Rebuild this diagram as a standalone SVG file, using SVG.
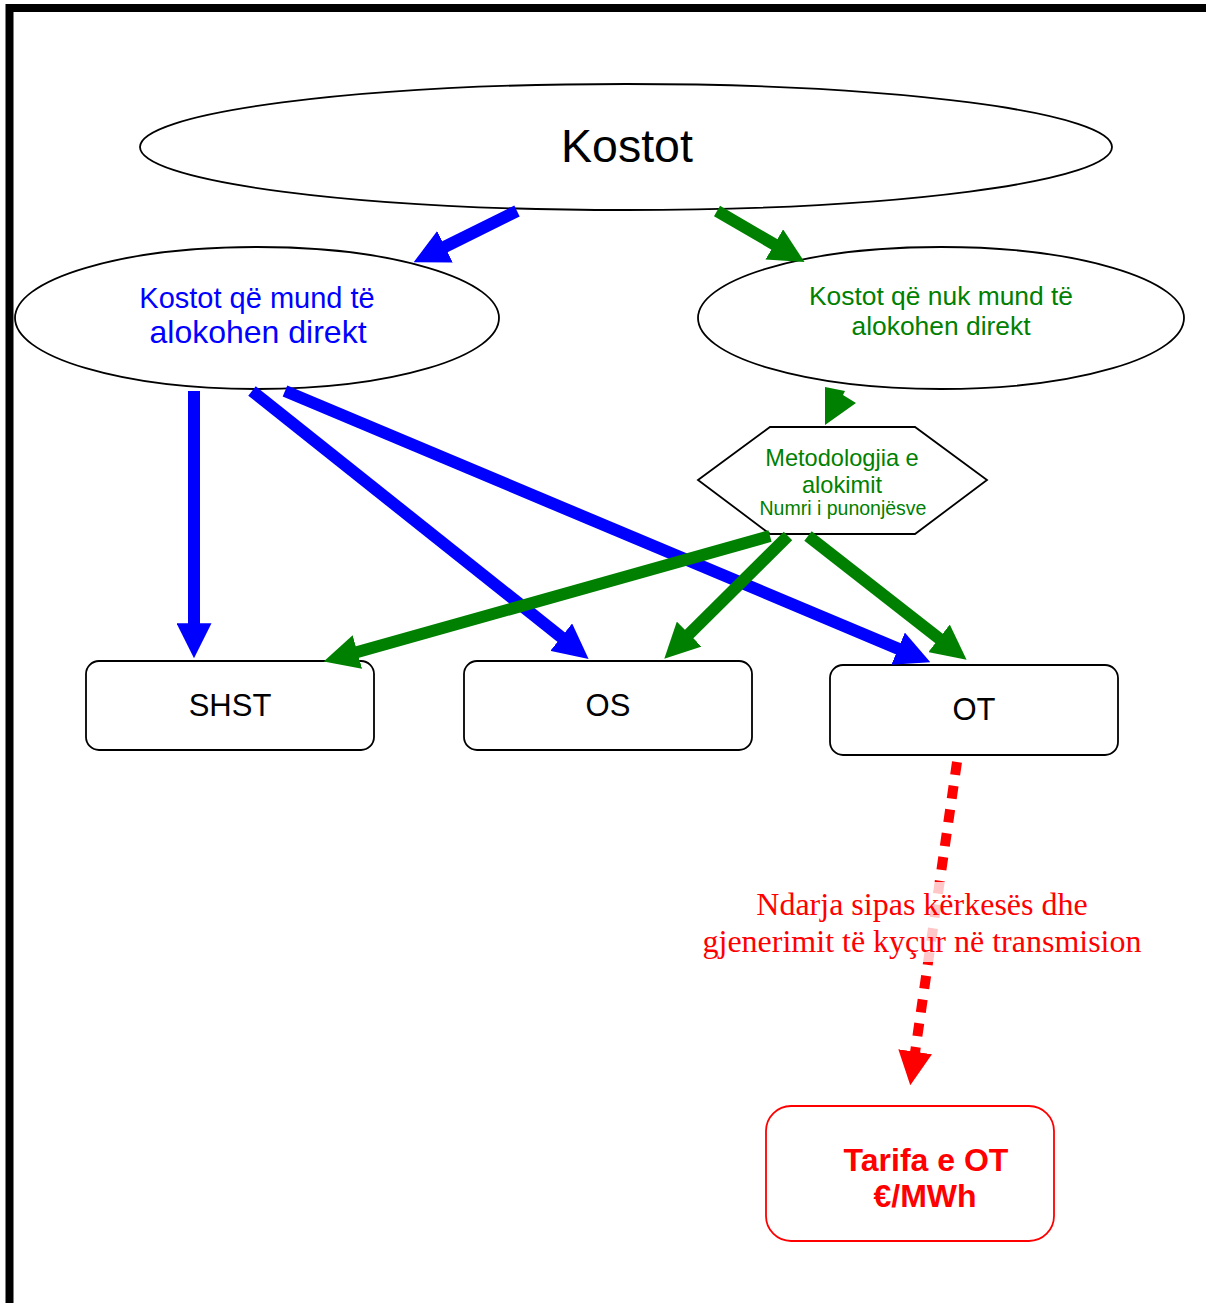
<svg xmlns="http://www.w3.org/2000/svg" width="1206" height="1303" viewBox="0 0 1206 1303">
<style>
.sans{font-family:"Liberation Sans",Arial,sans-serif;}
.serif{font-family:"Liberation Serif","Times New Roman",serif;}
.shape{fill:#fff;stroke:#000;stroke-width:1.8;}
.blue{stroke:#0000ff;stroke-width:12;fill:none;}
.green{stroke:#008000;stroke-width:12;fill:none;}
.red{stroke:#ff0000;stroke-width:10;fill:none;stroke-dasharray:13 11;}
</style>
<defs>
<marker id="hb" viewBox="0 0 10 10" refX="0.5" refY="5" markerWidth="35" markerHeight="35" markerUnits="userSpaceOnUse" orient="auto"><path d="M0,0 L10,5 L0,10 z" fill="#0000ff"/></marker>
<marker id="hg" viewBox="0 0 10 10" refX="0.5" refY="5" markerWidth="35" markerHeight="35" markerUnits="userSpaceOnUse" orient="auto"><path d="M0,0 L10,5 L0,10 z" fill="#008000"/></marker>
<marker id="hr" viewBox="0 0 10 10" refX="0.5" refY="5" markerWidth="34" markerHeight="35" markerUnits="userSpaceOnUse" orient="auto"><path d="M0,0 L10,5 L0,10 z" fill="#ff0000"/></marker>
</defs>
<rect x="0" y="0" width="1206" height="1303" fill="#fff"/>
<rect x="9.5" y="8" width="1220" height="1320" fill="none" stroke="#000" stroke-width="8"/>

<g id="kostot">
<ellipse class="shape" cx="626" cy="147" rx="486" ry="63"/>
<text class="sans" x="627" y="162" font-size="46.5" text-anchor="middle" fill="#000">Kostot</text>
</g>
<g id="direkt">
<ellipse class="shape" cx="257" cy="318" rx="242" ry="71"/>
<text class="sans" x="257" y="308" font-size="29" text-anchor="middle" fill="#0000ff">Kostot që mund të</text>
<text class="sans" x="258" y="343" font-size="32" text-anchor="middle" fill="#0000ff">alokohen direkt</text>
</g>
<g id="jodirekt">
<ellipse class="shape" cx="941" cy="318" rx="243" ry="71"/>
<text class="sans" x="941" y="305" font-size="26.4" text-anchor="middle" fill="#008000">Kostot që nuk mund të</text>
<text class="sans" x="941" y="335" font-size="26.4" text-anchor="middle" fill="#008000">alokohen direkt</text>
</g>
<g id="metodologjia">
<polygon class="shape" points="698,480 770,427 915,427 987,480 915,534 770,534"/>
<text class="sans" x="842" y="466" font-size="23.6" text-anchor="middle" fill="#008000">Metodologjia e</text>
<text class="sans" x="842" y="493" font-size="23.6" text-anchor="middle" fill="#008000">alokimit</text>
<text class="sans" x="843" y="515" font-size="19.5" text-anchor="middle" fill="#008000">Numri i punonjësve</text>
</g>
<g id="shst">
<rect class="shape" x="86" y="661" width="288" height="89" rx="13"/>
<text class="sans" x="230" y="716" font-size="31" text-anchor="middle" fill="#000">SHST</text>
</g>
<g id="os">
<rect class="shape" x="464" y="661" width="288" height="89" rx="13"/>
<text class="sans" x="608" y="716" font-size="31" text-anchor="middle" fill="#000">OS</text>
</g>
<g id="ot">
<rect class="shape" x="830" y="665" width="288" height="90" rx="13"/>
<text class="sans" x="974" y="720" font-size="31" text-anchor="middle" fill="#000">OT</text>
</g>
<g id="tarifa">
<rect x="766" y="1106" width="288" height="135" rx="25" fill="#fff" stroke="#ff0000" stroke-width="1.8"/>
<text class="sans" x="926" y="1171" font-size="32" font-weight="bold" text-anchor="middle" fill="#ff0000">Tarifa e OT</text>
<text class="sans" x="925" y="1207" font-size="32" font-weight="bold" text-anchor="middle" fill="#ff0000">€/MWh</text>
</g>

<g id="connectors">
<line class="blue" x1="517" y1="211" x2="443.4" y2="247.5" marker-end="url(#hb)"/>
<line class="blue" x1="194" y1="391" x2="194" y2="625" marker-end="url(#hb)"/>
<line class="blue" x1="252" y1="391" x2="562.6" y2="638.2" marker-end="url(#hb)"/>
<line class="blue" x1="285" y1="391" x2="899.7" y2="649.4" marker-end="url(#hb)"/>
<line class="green" x1="717" y1="211" x2="775.8" y2="245.3" marker-end="url(#hg)"/>
<polygon points="825,387 845,391 843,395 856,403 825,425" fill="#008000"/>
<line class="green" x1="770" y1="536" x2="355.7" y2="652.5" marker-end="url(#hg)"/>
<line class="green" x1="788" y1="536" x2="687.9" y2="635.3" marker-end="url(#hg)"/>
<line class="green" x1="808" y1="536" x2="940.4" y2="639.4" marker-end="url(#hg)"/>
<line class="red" x1="957" y1="762" x2="914.9" y2="1053.4" marker-end="url(#hr)"/>
</g>

<g id="label">
<rect x="700" y="882" width="445" height="80" fill="#fff" opacity="0.78"/>
<text class="serif" x="922" y="915" font-size="32" text-anchor="middle" fill="#ff0000">Ndarja sipas kërkesës dhe</text>
<text class="serif" x="922" y="952" font-size="32" text-anchor="middle" fill="#ff0000">gjenerimit të kyçur në transmision</text>
</g>
</svg>
